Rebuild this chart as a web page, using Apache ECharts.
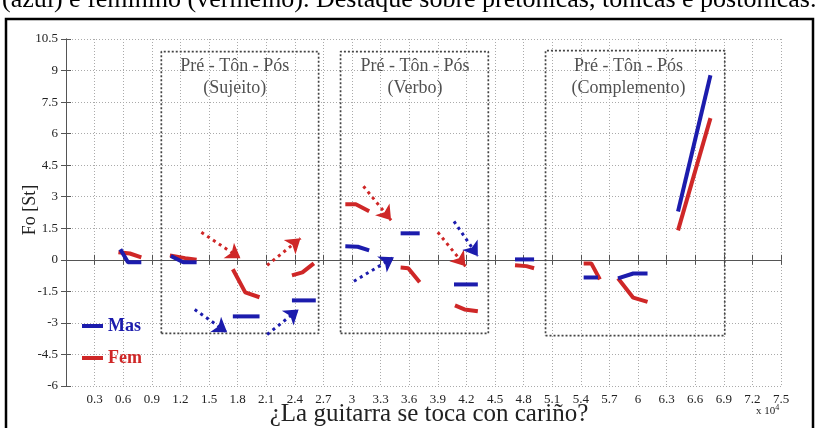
<!DOCTYPE html>
<html>
<head>
<meta charset="utf-8">
<script src="https://cdn.jsdelivr.net/npm/echarts@6/dist/echarts.min.js"></script>
<style>
  html, body { margin: 0; padding: 0; background: #fff; }
  #chart { width: 819px; height: 428px; }
</style>
</head>
<body>
<div id="chart"></div>
<script>
// valores (x em unidades de 10^4)
const xTicks = { min: 0, max: 7.5, step: 0.3 };
const yTicks = { min: -6, max: 10.5, step: 1.5 };

const masLines = [
    [[0.57, 0.5], [0.65, -0.12], [0.79, -0.12]],
    [[1.10, 0.18], [1.23, -0.12], [1.37, -0.12]],
    [[1.75, -2.69], [2.03, -2.69]],
    [[2.37, -1.93], [2.62, -1.93]],
    [[2.93, 0.64], [3.06, 0.62], [3.18, 0.45]],
    [[3.51, 1.26], [3.71, 1.26]],
    [[4.07, -1.17], [4.32, -1.17]],
    [[4.71, 0.02], [4.91, 0.02]],
    [[5.43, -0.84], [5.58, -0.84]],
    [[5.79, -0.88], [5.95, -0.65], [6.10, -0.65]],
    [[6.42, 2.3], [6.76, 8.78]]
];
const femLines = [
    [[0.55, 0.36], [0.67, 0.3], [0.79, 0.12]],
    [[1.09, 0.21], [1.25, 0.08], [1.37, 0.0]],
    [[1.75, -0.45], [1.88, -1.55], [2.03, -1.78]],
    [[2.37, -0.74], [2.48, -0.6], [2.60, -0.17]],
    [[2.93, 2.64], [3.04, 2.64], [3.18, 2.31]],
    [[3.51, -0.37], [3.59, -0.4], [3.71, -1.07]],
    [[4.08, -2.17], [4.18, -2.36], [4.32, -2.45]],
    [[4.71, -0.26], [4.83, -0.3], [4.91, -0.4]],
    [[5.43, -0.17], [5.51, -0.17], [5.60, -0.93]],
    [[5.79, -0.88], [5.95, -1.8], [6.10, -2.0]],
    [[6.42, 1.4], [6.76, 6.74]]
];
const redArrows = [
    [[1.42, 1.31], [1.83, 0.07]],
    [[2.11, -0.26], [2.46, 1.02]],
    [[3.12, 3.5], [3.41, 1.88]],
    [[3.90, 1.31], [4.19, -0.31]]
];
const blueArrows = [
    [[1.35, -2.36], [1.69, -3.45]],
    [[2.11, -3.55], [2.44, -2.36]],
    [[3.02, -1.02], [3.44, 0.12]],
    [[4.07, 1.83], [4.32, 0.17]]
];
// caixas pontilhadas: [x0, x1, y0, y1]
const boxes = [
    [1.0, 2.65, -3.5, 9.9],
    [2.88, 4.43, -3.5, 9.9],
    [5.03, 6.91, -3.6, 9.95]
];
const boxTitles = ['Pré - Tôn - Pós\n(Sujeito)', 'Pré - Tôn - Pós\n(Verbo)', 'Pré - Tôn - Pós\n(Complemento)'];
const boxTitleX = [1.77, 3.66, 5.9];
const boxTitleY = 8.67;

const BLUE = '#1c1cad';
const RED = '#cf2727';
const SERIF = '"Liberation Serif", "Times New Roman", serif';

const chart = echarts.init(document.getElementById('chart'), null, { renderer: 'canvas' });

const series = [];
masLines.forEach(seg => series.push({
    name: 'Mas', type: 'line', data: seg, symbol: 'none', z: 5,
    lineStyle: { color: BLUE, width: 4 }, itemStyle: { color: BLUE }
}));
femLines.forEach(seg => series.push({
    name: 'Fem', type: 'line', data: seg, symbol: 'none', z: 4,
    lineStyle: { color: RED, width: 4 }, itemStyle: { color: RED }
}));
boxes.forEach(b => series.push({
    type: 'line', symbol: 'none', silent: true, z: 2,
    data: [[b[0], b[2]], [b[1], b[2]], [b[1], b[3]], [b[0], b[3]], [b[0], b[2]]],
    lineStyle: { color: '#444', width: 1.7, type: [2, 2] }
}));
series.push({
    type: 'lines', coordinateSystem: 'cartesian2d', z: 3,
    symbol: ['none', 'arrow'], symbolSize: [10, 14],
    lineStyle: { color: RED, width: 3, type: [3, 4], opacity: 1 },
    data: redArrows.map(a => ({ coords: a }))
});
series.push({
    type: 'lines', coordinateSystem: 'cartesian2d', z: 3,
    symbol: ['none', 'arrow'], symbolSize: [10, 14],
    lineStyle: { color: BLUE, width: 3, type: [3, 4], opacity: 1 },
    data: blueArrows.map(a => ({ coords: a }))
});
series.push({
    type: 'scatter', symbolSize: 0, silent: true, z: 6,
    data: boxTitles.map((t, i) => ({ value: [boxTitleX[i], boxTitleY], label: { formatter: t } })),
    label: {
        show: true, position: 'inside', color: '#262626',
        fontFamily: SERIF, fontSize: 18, lineHeight: 22, align: 'center'
    }
});

const tickFmt = v => (Math.abs(v) < 1e-9 ? '' : String(+v.toFixed(1)));
const axisLine = { show: true, lineStyle: { color: '#555', width: 1 } };
const gridLine = { show: true, lineStyle: { color: '#aaa', width: 1, type: [1, 2] } };

chart.setOption({
    animation: false,
    backgroundColor: '#fff',
    grid: { left: 66, right: 38, top: 39, bottom: 42 },
    legend: {
        orient: 'vertical', left: 77, top: 312, itemGap: 14,
        itemWidth: 21, itemHeight: 4, icon: 'rect',
        textStyle: { fontFamily: SERIF, fontWeight: 'bold', fontSize: 18, lineHeight: 18 },
        data: [
            { name: 'Mas', textStyle: { color: BLUE } },
            { name: 'Fem', textStyle: { color: RED } }
        ]
    },
    xAxis: [{
        type: 'value', min: xTicks.min, max: xTicks.max, interval: xTicks.step,
        axisLine, axisTick: { inside: true, length: 5, lineStyle: { color: '#555' } },
        axisLabel: { formatter: tickFmt, color: '#222', fontFamily: SERIF, fontSize: 13, margin: 7 },
        splitLine: gridLine
    }, {
        type: 'value', position: 'top', min: xTicks.min, max: xTicks.max, interval: xTicks.step,
        axisLine, axisTick: { inside: true, length: 5, lineStyle: { color: '#555' } },
        axisLabel: { show: false }, splitLine: { show: false }
    }],
    yAxis: [{
        type: 'value', min: yTicks.min, max: yTicks.max, interval: yTicks.step,
        axisLine, axisTick: { inside: true, length: 5, lineStyle: { color: '#555' } },
        axisLabel: { formatter: v => String(+v.toFixed(1)), color: '#222', fontFamily: SERIF, fontSize: 13, margin: 8 },
        splitLine: gridLine
    }, {
        type: 'value', position: 'right', min: yTicks.min, max: yTicks.max, interval: yTicks.step,
        axisLine, axisTick: { inside: true, length: 5, lineStyle: { color: '#555' } },
        axisLabel: { show: false }, splitLine: { show: false }
    }],
    graphic: [
        {
            type: 'text', left: 2, top: -13, silent: true,
            style: { text: '(azul) e feminino (vermelho). Destaque sobre pretônicas, tônicas e postônicas.',
                     font: '26px ' + SERIF, fill: '#000' }
        },
        {
            type: 'rect', silent: true,
            shape: { x: 6, y: 19, width: 807, height: 430 },
            style: { fill: 'none', stroke: '#000', lineWidth: 2.5 }
        },
        {
            type: 'text', x: 30, y: 210, rotation: Math.PI / 2, silent: true,
            style: { text: 'Fo [St]', font: '18px ' + SERIF, fill: '#222',
                     align: 'center', verticalAlign: 'middle' }
        },
        {
            type: 'text', x: 429, y: 414, silent: true,
            style: { text: '¿La guitarra se toca con cariño?', font: '25px ' + SERIF, fill: '#222',
                     align: 'center', verticalAlign: 'middle' }
        },
        {
            type: 'text', x: 756, y: 404, silent: true,
            style: {
                text: '{a|x 10}{b|4}', fill: '#222',
                rich: {
                    a: { font: '11px ' + SERIF, fill: '#222' },
                    b: { font: '8px ' + SERIF, fill: '#222', verticalAlign: 'top', padding: [0, 0, 6, 0] }
                }
            }
        }
    ],
    series
});
</script>
</body>
</html>
